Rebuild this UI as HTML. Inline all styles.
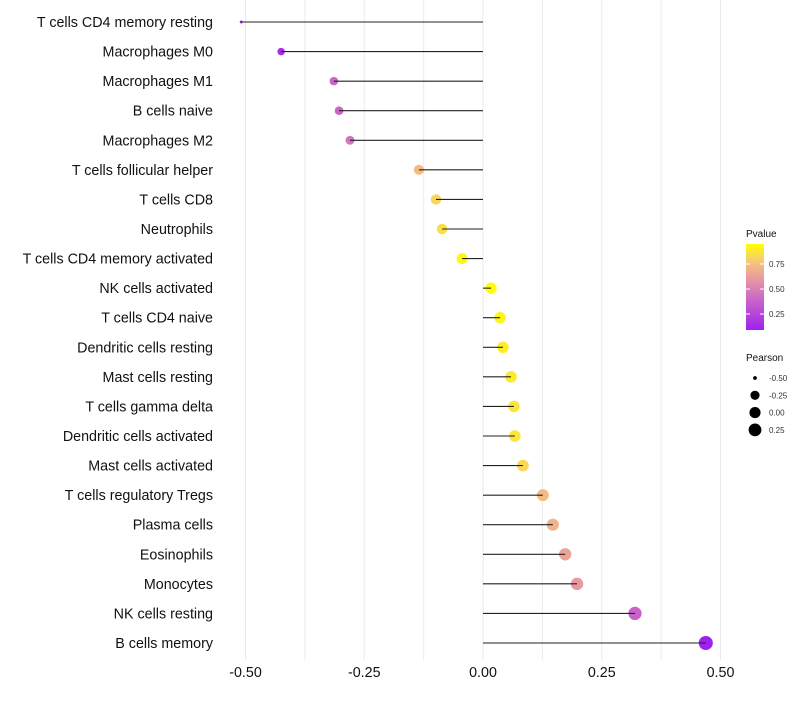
<!DOCTYPE html>
<html><head><meta charset="utf-8"><style>
body{margin:0;background:#fff;font-family:"Liberation Sans",sans-serif;}
svg text{font-family:"Liberation Sans",sans-serif;}
</style></head><body>
<svg id="chart" width="800" height="700" xmlns="http://www.w3.org/2000/svg">
<defs><linearGradient id="pgrad" x1="0" y1="1" x2="0" y2="0">
<stop offset="0" stop-color="#a020f0"/><stop offset="0.35" stop-color="#c965c8"/><stop offset="0.6" stop-color="#e99aa0"/><stop offset="0.8" stop-color="#f6c77a"/><stop offset="1" stop-color="#ffff00"/>
</linearGradient></defs>
<g id="grid"></g><g id="marks"></g><g id="ylabels"></g><g id="xlabels"></g><g id="legend"></g>
</svg>
<script>
const categories=["T cells CD4 memory resting","Macrophages M0","Macrophages M1","B cells naive","Macrophages M2","T cells follicular helper","T cells CD8","Neutrophils","T cells CD4 memory activated","NK cells activated","T cells CD4 naive","Dendritic cells resting","Mast cells resting","T cells gamma delta","Dendritic cells activated","Mast cells activated","T cells regulatory  Tregs ","Plasma cells","Eosinophils","Monocytes","NK cells resting","B cells memory"];
const pearson=[-0.509,-0.425,-0.314,-0.303,-0.280,-0.135,-0.099,-0.086,-0.044,0.017,0.036,0.042,0.059,0.065,0.067,0.084,0.126,0.147,0.173,0.198,0.320,0.469];
const pvalues=[0.10,0.15,0.40,0.40,0.45,0.74,0.82,0.85,0.93,0.97,0.92,0.90,0.89,0.87,0.87,0.83,0.74,0.70,0.64,0.60,0.38,0.09];
const xTicks=[-0.5,-0.25,0,0.25,0.5];
const xTickLabels=["-0.50","-0.25","0.00","0.25","0.50"];
const gridVals=[-0.5,-0.375,-0.25,-0.125,0,0.125,0.25,0.375,0.5];
const sizeLegendVals=[-0.5,-0.25,0,0.25];
const sizeLegendLabels=["-0.50","-0.25","0.00","0.25"];
const colorTicks=[0.25,0.5,0.75];
const colorTickLabels=["0.25","0.50","0.75"];
const NS="http://www.w3.org/2000/svg";
const X=v=>483+v*475;
const Y=i=>22+i*(621/21);
function R(v){let a=v<-0.425?2.25+Math.max(0,v+0.509)/0.084*11.75:14+(v+0.425)*40;return Math.sqrt(a);}
const stops=[[0,[160,32,240]],[0.35,[201,101,200]],[0.6,[233,154,160]],[0.8,[246,199,122]],[1,[255,255,0]]];
function col(p){let t=(p-0.09)/(0.95-0.09);t=Math.max(0,Math.min(1,t));
for(let k=1;k<stops.length;k++){if(t<=stops[k][0]){const a=stops[k-1],b=stops[k];const f=(t-a[0])/(b[0]-a[0]);
return "rgb("+a[1].map((c,j)=>Math.round(c+(b[1][j]-c)*f)).join(",")+")";}}return "rgb(255,255,0)";}
function mk(tag,attrs,parent){const e=document.createElementNS(NS,tag);for(const k in attrs)e.setAttribute(k,attrs[k]);document.getElementById(parent).appendChild(e);return e;}
gridVals.forEach(v=>{const l=mk("line",{x1:X(v),x2:X(v),y1:0,y2:660,stroke:"#ebebeb","stroke-width":1},"grid");

});
categories.forEach((c,i)=>{
const pt=mk("circle",{cx:X(pearson[i]),cy:Y(i),r:R(pearson[i]),fill:col(pvalues[i])},"marks");


const ln=mk("line",{x1:X(0),x2:X(pearson[i]),y1:Y(i),y2:Y(i),stroke:"#222","stroke-width":1.1},"marks");


const t=mk("text",{x:213,y:Y(i)+5,"text-anchor":"end","font-size":14.3,fill:"#111"},"ylabels");t.textContent=c;

});
xTicks.forEach((v,i)=>{const t=mk("text",{x:X(v),y:677,"text-anchor":"middle","font-size":14.3,fill:"#111"},"xlabels");t.textContent=xTickLabels[i];

});
const lt=mk("text",{x:746,y:237,"font-size":10,fill:"#111"},"legend");lt.textContent="Pvalue";


const cb=mk("rect",{x:746,y:244,width:18,height:86,fill:"url(#pgrad)"},"legend");


const CY=p=>330-(p-0.09)/(0.95-0.09)*86;
colorTicks.forEach((p,i)=>{mk("line",{x1:746,x2:750,y1:CY(p),y2:CY(p),stroke:"#fff"},"legend");mk("line",{x1:760,x2:764,y1:CY(p),y2:CY(p),stroke:"#fff"},"legend");
const t=mk("text",{x:769,y:CY(p)+3,"font-size":8,fill:"#333"},"legend");t.textContent=colorTickLabels[i];

});
const st=mk("text",{x:746,y:361,"font-size":10,fill:"#111"},"legend");st.textContent="Pearson";


sizeLegendVals.forEach((v,i)=>{const y=378+i*17.3;
const c=mk("circle",{cx:755,cy:y,r:R(v),fill:"#000"},"legend");


const t=mk("text",{x:769,y:y+3,"font-size":8,fill:"#333"},"legend");t.textContent=sizeLegendLabels[i];

});
</script>
</body></html>
